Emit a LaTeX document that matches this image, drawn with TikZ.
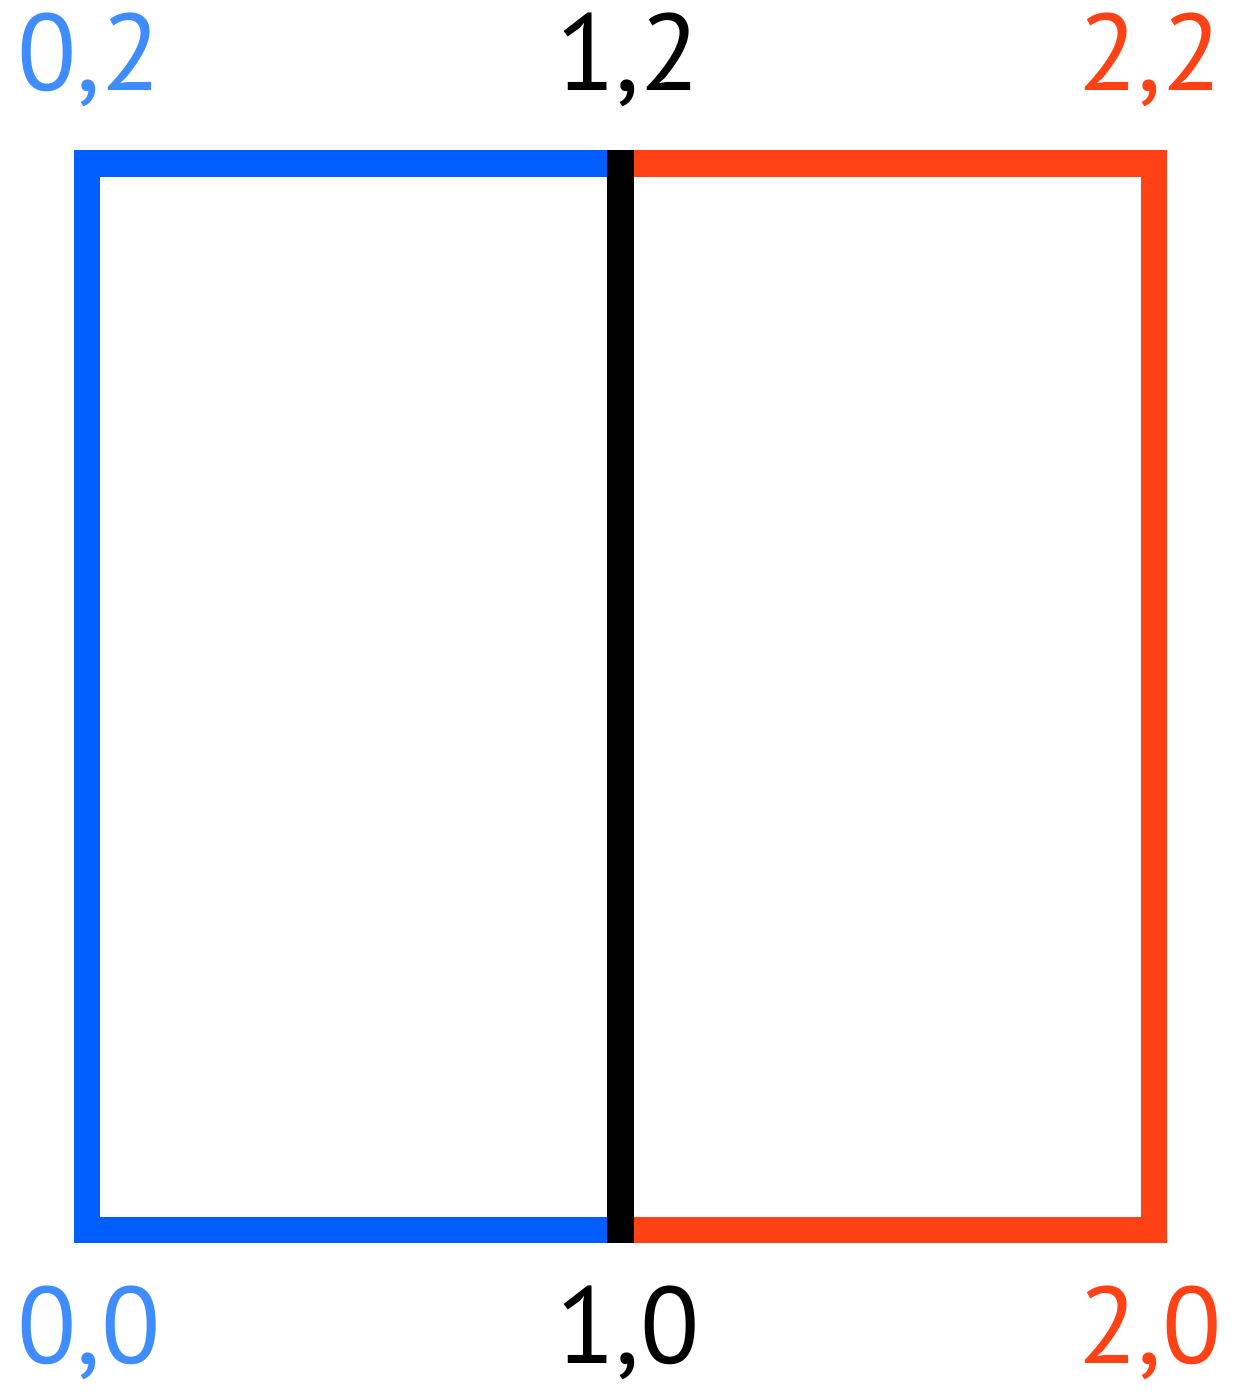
\documentclass[tikz,border=0pt]{standalone}
\usepackage{fontspec}
\setmainfont{PT Sans}
\usepackage{xcolor}
\usetikzlibrary{positioning,calc}
\definecolor{leftline}{HTML}{005EFF}
\definecolor{lefttext}{HTML}{3F8CFF}
\definecolor{rightline}{HTML}{FF4215}
\definecolor{righttext}{HTML}{FF4215}
\definecolor{ink}{HTML}{000000}

\begin{document}
\begin{tikzpicture}[
  every node/.style={font=\fontsize{31}{35}\selectfont},
  cornerlabel/.style={anchor=base, inner sep=0pt},
  edge/.style={line width=0.265cm, line join=miter},
  divider/.style={line width=0.265cm, line cap=rect, draw=ink}
]
\useasboundingbox (0,0) rectangle (12.49,13.94);

% --- corners of the two cells ---
\coordinate (c00) at (0.87,1.64);
\coordinate (c10) at (6.205,1.64);
\coordinate (c20) at (11.54,1.64);
\coordinate (c02) at (0.87,12.305);
\coordinate (c12) at (6.205,12.305);
\coordinate (c22) at (11.54,12.305);

% --- left cell (blue) ---
\draw[edge, draw=leftline] (c12) -- (c02) -- (c00) -- (c10);

% --- right cell (red) ---
\draw[edge, draw=rightline] (c12) -- (c22) -- (c20) -- (c10);

% --- shared edge ---
\draw[divider] (c10) -- (c12);

% --- labels ---
\node[cornerlabel, text=lefttext] (l02) at (0.89,13.03) {0,2};
\node[cornerlabel, text=ink] (l12) at (6.28,13.03) {1,2};
\node[cornerlabel, text=righttext] (l22) at (11.50,13.03) {2,2};
\node[cornerlabel, text=lefttext] (l00) at (0.89,0.30) {0,0};
\node[cornerlabel, text=ink] (l10) at (6.28,0.30) {1,0};
\node[cornerlabel, text=righttext] (l20) at (11.50,0.30) {2,0};

\end{tikzpicture}
\end{document}
